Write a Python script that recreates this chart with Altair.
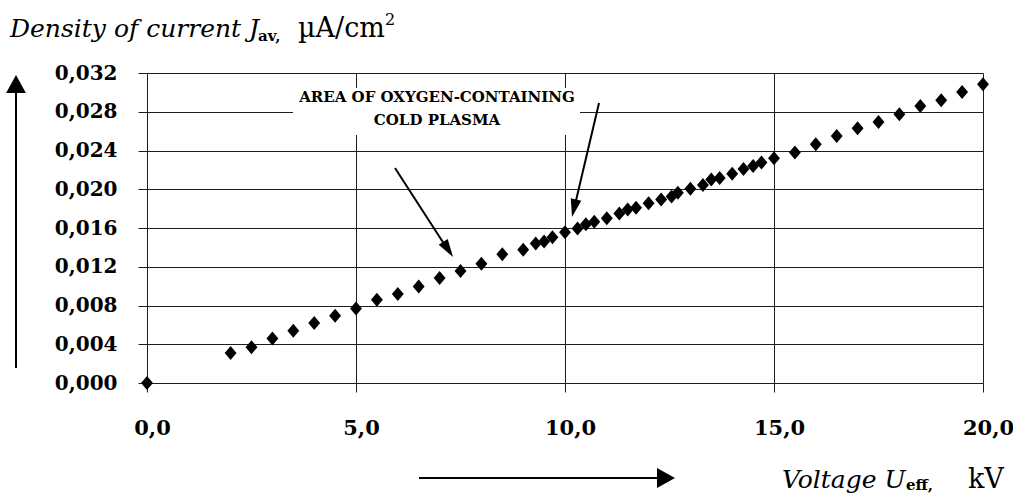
import altair as alt
import pandas as pd

# ---- data ----
voltage_kv = [0.0, 2.0, 2.5, 3.0, 3.5, 4.0, 4.5, 5.0, 5.5, 6.0, 6.5, 7.0, 7.5, 8.0, 8.5,
              9.0, 9.3, 9.5, 9.7, 10.0, 10.3, 10.5, 10.7, 11.0, 11.3, 11.5, 11.7, 12.0,
              12.3, 12.55, 12.7, 13.0, 13.3, 13.5, 13.7, 14.0, 14.27, 14.5, 14.7, 15.0,
              15.5, 16.0, 16.5, 17.0, 17.5, 18.0, 18.5, 19.0, 19.5, 20.0]
density = [0.0, 0.0031, 0.0037, 0.0046, 0.0054, 0.0062, 0.00695, 0.0077, 0.0086, 0.0092,
           0.00995, 0.01085, 0.01155, 0.0123, 0.0133, 0.01375, 0.0144, 0.0146, 0.01505,
           0.01555, 0.01595, 0.0164, 0.01665, 0.0170, 0.0175, 0.0179, 0.0181, 0.01855,
           0.01895, 0.01925, 0.01965, 0.02005, 0.02045, 0.0210, 0.02115, 0.0216, 0.0221,
           0.0224, 0.02275, 0.0232, 0.0238, 0.02465, 0.0255, 0.0263, 0.02695, 0.02775,
           0.0286, 0.0292, 0.03005, 0.03085]
x_ticks = [0, 5, 10, 15, 20]
y_ticks = [0.0, 0.004, 0.008, 0.012, 0.016, 0.020, 0.024, 0.028, 0.032]
annotation_lines = ["AREA OF OXYGEN-CONTAINING", "COLD PLASMA"]

df = pd.DataFrame({"U": voltage_kv, "J": density})
one = pd.DataFrame({"k": [0]})

W, H = 836, 310
SERIF = "DejaVu Serif"
GRID = "#1e1e1e"

points = alt.Chart(df).mark_point(
    shape="M-0.85,0L0,-1L0.85,0L0,1Z", filled=True, color="black", opacity=1, size=196
).encode(
    x=alt.X("U:Q", scale=alt.Scale(domain=[0, 20], nice=False),
            axis=alt.Axis(values=x_ticks, title=None, grid=True, gridColor=GRID, gridWidth=1,
                          tickColor=GRID, tickSize=9, domain=False,
                          labelExpr="replace(format(datum.value, '.1f'), '.', ',')",
                          labelFont=SERIF, labelFontSize=21, labelFontWeight="bold",
                          labelColor="black", labelPadding=25, labelOffset=5,
                          labelFlush=False)),
    y=alt.Y("J:Q", scale=alt.Scale(domain=[0, 0.032], nice=False),
            axis=alt.Axis(values=y_ticks, title=None, grid=True, gridColor=GRID, gridWidth=1,
                          tickColor=GRID, tickSize=9, domain=False,
                          labelExpr="replace(format(datum.value, '.3f'), '.', ',')",
                          labelFont=SERIF, labelFontSize=20, labelFontWeight="bold",
                          labelColor="black", labelPadding=21, labelFlush=False)),
)

# white box behind the annotation (hides grid lines)
box = alt.Chart(one).mark_rect(color="white").encode(
    x=alt.value(146), x2=alt.value(433), y=alt.value(15), y2=alt.value(62))

def txt(s, x, y, size, style="normal", weight="normal", align="left"):
    return alt.Chart(one).mark_text(
        text=s, align=align, baseline="alphabetic", font=SERIF, fontSize=size,
        fontStyle=style, fontWeight=weight, color="black"
    ).encode(x=alt.value(x), y=alt.value(y))

def line(x1, y1, x2, y2, w=2):
    return alt.Chart(one).mark_rule(color="black", strokeWidth=w).encode(
        x=alt.value(x1), y=alt.value(y1), x2=alt.value(x2), y2=alt.value(y2))

def head(x, y, angle, shape="M0,0L-0.3,1L0.3,1Z", size=1296):
    return alt.Chart(one).mark_point(
        shape=shape, filled=True, color="black", opacity=1, size=size, angle=angle
    ).encode(x=alt.value(x), y=alt.value(y))

ann1 = txt(annotation_lines[0], 290, 29, 15, weight="bold", align="center")
ann2 = txt(annotation_lines[1], 290, 52, 15, weight="bold", align="center")

arrow1 = line(248, 95, 301, 177) + head(306, 184, 147)
arrow2 = line(452, 30, 427, 136) + head(425, 144, 193)

wide = "M0,0L-0.55,1L0.55,1Z"
yarrow = line(-131, 18, -131, 295) + head(-131, 2, 0, wide)
xarrow = line(272, 405, 514, 405) + head(528, 405, 90, wide, size=1300)

title_parts = (
    txt("Density of current J", -137, -36, 25, style="italic")
    + txt("av,", 111, -32, 15, weight="bold")
    + txt("\u00b5A/cm", 151, -36, 27)
    + txt("2", 238, -48, 16)
)
xlabel_parts = (
    txt("Voltage U", 635, 415, 25, style="italic")
    + txt("eff,", 759, 417, 15, weight="bold")
    + txt("kV", 821, 415, 27)
)

chart = alt.layer(
    points, box, ann1, ann2, arrow1, arrow2, yarrow, xarrow, title_parts, xlabel_parts
).properties(
    width=W, height=H,
    autosize=alt.AutoSizeParams(type="none"),
    padding={"left": 147, "top": 73, "right": 30, "bottom": 110},
    background="white",
).configure_view(strokeWidth=0)

chart.save("out.html", embed_options={"renderer": "svg", "actions": False})
